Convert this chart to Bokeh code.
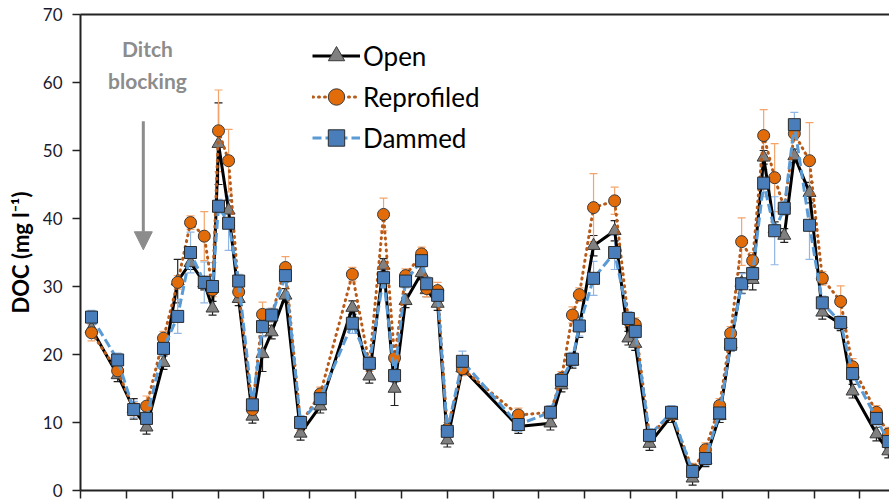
from bokeh.plotting import figure
from bokeh.models import (ColumnDataSource, Whisker, TeeHead, Legend, LegendItem,
                          LinearAxis, Label, Arrow, NormalHead, FixedTicker, Range1d)
from bokeh.embed import file_html
from bokeh.resources import INLINE

# sampling time, in months from the first axis tick
months = [0.24, 0.81, 1.16, 1.44, 1.81, 2.12, 2.40, 2.70, 2.88, 3.01, 3.23, 3.45, 3.75,
          3.97, 4.17, 4.47, 4.80, 5.23, 5.93, 6.30, 6.61, 6.85, 7.09, 7.44, 7.55, 7.79,
          8.00, 8.33, 9.55, 10.25, 10.49, 10.73, 10.88, 11.19, 11.65, 11.95, 12.10, 12.41,
          12.89, 13.35, 13.63, 13.94, 14.18, 14.42, 14.66, 14.90, 15.14, 15.35, 15.57,
          15.90, 16.18, 16.58, 16.84, 17.36, 17.62]

open_doc = [23.8, 17.0, 12.0, 9.3, 18.8, 30.8, 33.5, 30.5, 26.8, 51.0, 41.2, 28.2, 10.9,
            20.1, 23.3, 28.7, 8.4, 12.4, 26.9, 16.8, 33.1, 15.0, 27.9, 32.0, 29.5, 27.5,
            7.4, 18.0, 9.4, 9.9, 15.5, 19.0, 24.0, 36.0, 38.2, 22.4, 21.6, 6.9, 11.0, 1.8,
            4.5, 11.0, 21.5, 30.5, 31.0, 49.0, 38.5, 37.5, 49.2, 43.8, 26.2, 24.5, 14.6,
            8.3, 5.8]
open_err = [1.0, 1.0, 1.5, 1.0, 1.0, 3.2, 1.0, 1.0, 1.0, 6.0, 1.5, 1.0, 1.0,
            2.6, 1.0, 1.0, 1.0, 1.0, 1.0, 1.0, 1.0, 2.5, 1.0, 1.0, 1.0, 1.0,
            1.0, 1.0, 1.0, 1.0, 1.0, 1.0, 1.5, 1.5, 1.5, 1.0, 1.0, 1.0, 1.0, 1.0,
            1.0, 1.0, 1.0, 1.5, 1.5, 1.0, 1.0, 1.0, 1.0, 1.5, 1.0, 1.0, 1.0,
            1.0, 1.0]

repro_doc = [23.2, 17.6, 12.0, 12.4, 22.4, 30.6, 39.4, 37.4, 29.5, 52.9, 48.5, 29.2, 11.9,
             25.9, 25.8, 32.8, 9.8, 14.2, 31.8, 18.5, 40.6, 19.5, 31.6, 34.8, 29.7, 29.4,
             9.0, 17.9, 11.1, 11.5, 16.5, 25.8, 28.8, 41.6, 42.6, 25.0, 24.4, 8.0, 11.3,
             3.0, 6.0, 12.5, 23.1, 36.6, 33.8, 52.2, 46.0, 41.5, 52.5, 48.5, 31.2, 27.8,
             18.2, 11.5, 8.3]
repro_err = [1.2, 1.0, 1.0, 1.5, 1.0, 1.0, 1.0, 3.6, 1.0, 6.0, 4.6, 1.0, 1.0,
             1.8, 1.0, 1.6, 1.0, 1.0, 1.0, 1.0, 2.4, 1.0, 1.0, 1.0, 1.2, 1.2,
             1.0, 1.0, 1.0, 1.0, 1.0, 1.2, 1.0, 5.0, 2.0, 1.0, 1.0, 1.0, 1.0,
             1.0, 1.0, 1.0, 1.0, 3.5, 1.2, 3.8, 5.0, 1.0, 1.0, 5.6, 1.0, 2.3,
             1.2, 1.0, 1.0]

dammed_doc = [25.5, 19.2, 11.9, 10.6, 20.9, 25.6, 35.0, 30.6, 30.0, 41.8, 39.3, 30.8, 12.6,
              24.1, 25.8, 31.6, 10.0, 13.5, 24.6, 18.7, 31.3, 16.9, 30.8, 33.8, 30.4, 28.7,
              8.7, 19.0, 9.7, 11.5, 16.2, 19.3, 24.2, 31.2, 35.0, 25.3, 23.4, 8.1, 11.5,
              2.8, 4.7, 11.4, 21.5, 30.4, 31.9, 45.2, 38.2, 41.5, 53.8, 39.0, 27.6, 24.7,
              17.2, 10.6, 7.2]
dammed_err = [1.0, 1.0, 1.2, 1.0, 1.0, 2.5, 3.0, 3.0, 3.5, 1.0, 4.0, 1.0, 1.0,
              1.5, 1.0, 1.0, 1.0, 1.0, 1.5, 1.0, 1.0, 1.0, 1.0, 1.0, 1.0, 1.0,
              1.0, 1.5, 1.0, 1.0, 1.0, 1.0, 1.5, 2.5, 2.5, 1.0, 1.0, 1.0, 1.0,
              1.0, 1.0, 1.0, 1.0, 1.5, 1.0, 2.0, 5.0, 1.0, 1.8, 5.0, 1.0, 1.0,
              1.0, 1.0, 1.0]

y_ticks = [0, 10, 20, 30, 40, 50, 60, 70]
x_ticks = list(range(0, 18))

FONT = "Lato"

p = figure(width=889, height=500, output_backend="svg", toolbar_location=None,
           x_range=Range1d(0, 17.645), y_range=Range1d(0, 70),
           min_border_left=80, min_border_top=14, min_border_right=0, min_border_bottom=10)
p.outline_line_color = None
p.grid.visible = False
p.background_fill_color = "white"
p.border_fill_color = "white"

# axes
p.yaxis.ticker = FixedTicker(ticks=y_ticks)
p.yaxis.major_tick_out = 8
p.yaxis.major_tick_in = 0
p.yaxis.minor_tick_out = 0
p.yaxis.minor_tick_in = 0
p.yaxis.axis_line_width = 2
p.yaxis.axis_line_color = "#222222"
p.yaxis.major_tick_line_color = "#222222"
p.yaxis.major_tick_line_width = 1.5
p.yaxis.major_label_text_font = FONT
p.yaxis.major_label_text_font_size = "17px"
p.yaxis.major_label_text_color = "#1a1a2e"
p.yaxis.major_label_standoff = 10
p.yaxis.axis_label = "DOC (mg l\u207b\u00b9)"
p.yaxis.axis_label_text_font = FONT
p.yaxis.axis_label_text_font_style = "bold"
p.yaxis.axis_label_text_font_size = "22px"
p.yaxis.axis_label_text_color = "black"
p.yaxis.axis_label_standoff = 6

p.xaxis.ticker = FixedTicker(ticks=x_ticks)
p.xaxis.major_tick_out = 8
p.xaxis.major_tick_in = 0
p.xaxis.minor_tick_out = 0
p.xaxis.minor_tick_in = 0
p.xaxis.axis_line_width = 2
p.xaxis.axis_line_color = "#222222"
p.xaxis.major_tick_line_color = "#222222"
p.xaxis.major_tick_line_width = 1.5
p.xaxis.major_label_text_font_size = "1px"
p.xaxis.major_label_text_alpha = 0
p.xaxis.major_label_standoff = 0

top = LinearAxis(major_tick_out=0, major_tick_in=0, minor_tick_out=0, minor_tick_in=0,
                 major_label_text_font_size="1px", major_label_text_alpha=0,
                 major_label_standoff=0, axis_line_width=2, axis_line_color="#222222")
p.add_layout(top, "above")

series = [
    ("Open", open_doc, open_err, dict(line_color="black", line_width=3, line_dash="solid"),
     dict(marker="triangle", size=13, fill_color="#808080", line_color="#3a3a3a"), "#222222"),
    ("Reprofiled", repro_doc, repro_err,
     dict(line_color="#b85a18", line_width=3, line_dash="1 5", line_cap="round"),
     dict(marker="circle", size=12, fill_color="#e36c0a", line_color="#3a3a3a"), "#f4a46a"),
    ("Dammed", dammed_doc, dammed_err,
     dict(line_color="#5b9bd5", line_width=3, line_dash="9 4"),
     dict(marker="square", size=12, fill_color="#4a7ebb", line_color="#2a2a2a"), "#8fb6e4"),
]

items = []
for name, vals, errs, lkw, mkw, ecol in series:
    src = ColumnDataSource(dict(x=months, y=vals,
                                lo=[v - e for v, e in zip(vals, errs)],
                                hi=[v + e for v, e in zip(vals, errs)]))
    w = Whisker(source=src, base="x", upper="hi", lower="lo", line_color=ecol, line_width=1.2,
                upper_head=TeeHead(size=8, line_color=ecol, line_width=1.2),
                lower_head=TeeHead(size=8, line_color=ecol, line_width=1.2))
    p.add_layout(w)
    r_line = p.line("x", "y", source=src, **lkw)
    r_mark = p.scatter("x", "y", source=src, line_width=1, **mkw)
    items.append(LegendItem(label=name, renderers=[r_line, r_mark]))

legend = Legend(items=items, location=(232, 332), orientation="vertical",
                label_text_font=FONT, label_text_font_size="26px", label_text_color="black",
                glyph_width=48, glyph_height=41, spacing=0, padding=0, margin=0,
                label_standoff=3, border_line_color=None, background_fill_alpha=0)
p.add_layout(legend, "center")

# annotation
p.add_layout(Label(x=1.46, y=65.0, text="Ditch", text_align="center", text_baseline="middle",
                   text_font=FONT, text_font_style="bold", text_font_size="21px",
                   text_color="#8c8c8c"))
p.add_layout(Label(x=1.46, y=60.3, text="blocking", text_align="center", text_baseline="middle",
                   text_font=FONT, text_font_style="bold", text_font_size="21px",
                   text_color="#8c8c8c"))
p.add_layout(Arrow(x_start=1.37, y_start=54.3, x_end=1.37, y_end=35.4,
                   line_color="#8c8c8c", line_width=3,
                   end=NormalHead(size=18, fill_color="#8c8c8c", line_color="#8c8c8c")))

open("out.html", "w").write(file_html(p, INLINE))
